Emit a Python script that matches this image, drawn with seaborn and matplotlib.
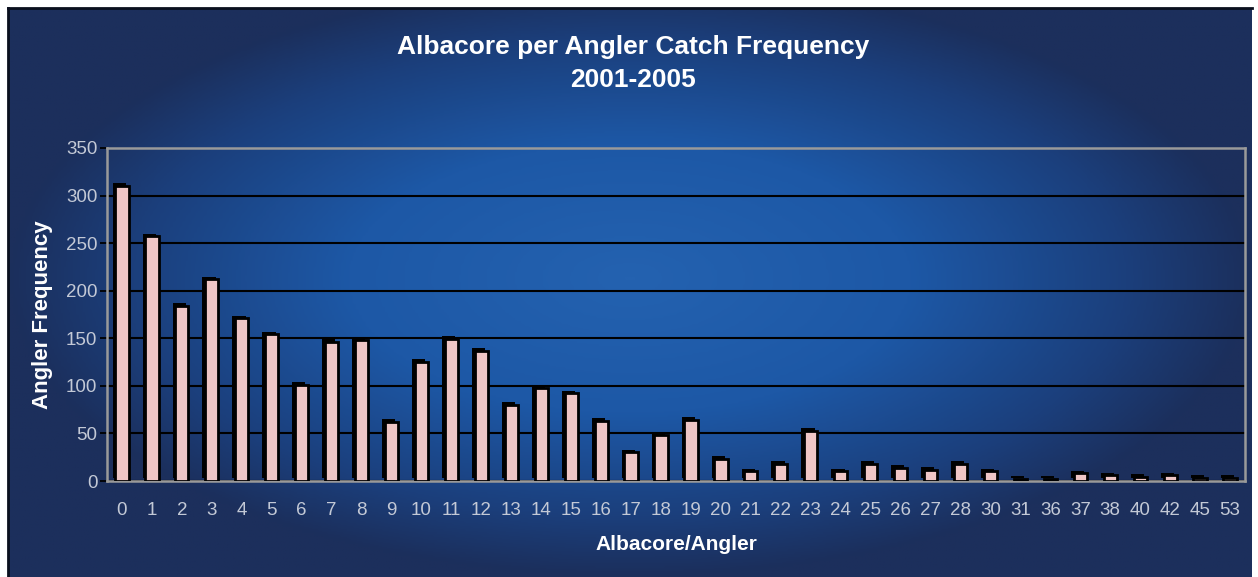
import matplotlib
matplotlib.use("Agg")
import matplotlib.pyplot as plt
import matplotlib.patheffects as pe
import numpy as np
import pandas as pd
import seaborn as sns
from matplotlib.colors import LinearSegmentedColormap

# catch per angler (category) and how many anglers caught that many
catch = ["0", "1", "2", "3", "4", "5", "6", "7", "8", "9", "10", "11", "12",
         "13", "14", "15", "16", "17", "18", "19", "20", "21", "22", "23",
         "24", "25", "26", "27", "28", "30", "31", "36", "37", "38", "40",
         "42", "45", "53"]
freq = [310, 257, 184, 212, 171, 154, 101, 146, 148, 62, 125, 149, 137,
        80, 98, 92, 63, 30, 48, 64, 23, 10, 18, 53,
        10, 18, 14, 12, 18, 10, 2, 2, 8, 6, 4,
        6, 3, 3]
y_ticks = [0, 50, 100, 150, 200, 250, 300, 350]

BAR_PINK = "#efc6c6"
TICK_GREY = "#c3c9d6"
FRAME_GREY = "#9a9a9a"

sns.set_theme(style="white")
plt.rcParams["font.family"] = ["Liberation Sans", "DejaVu Sans"]

W, H = 1258, 577
fig = plt.figure(figsize=(W / 100, H / 100), dpi=100, facecolor="white")

# background panel with a wide radial blue glow
bg = fig.add_axes([8 / W, 0, (1252 - 8) / W, (H - 8) / H])
gx, gy = np.meshgrid(np.linspace(-1, 1, 400), np.linspace(-1, 1, 200))
r = np.sqrt((gx / 1.0) ** 2 + ((gy + 0.05) / 1.05) ** 2)
glow = LinearSegmentedColormap.from_list(
    "glow", [(0, "#2462b0"), (0.45, "#1d58a6"), (0.8, "#1b3f7c"), (1, "#1c2f5c")])
bg.imshow(np.clip(r, 0, 1), cmap=glow, aspect="auto", extent=[0, 1, 0, 1])
bg.set_xlim(0, 1)
bg.set_ylim(0, 1)
bg.set_xticks([])
bg.set_yticks([])
for side in ("right", "bottom"):
    bg.spines[side].set_visible(False)
for side in ("top", "left"):
    bg.spines[side].set_color("#0a0f1e")
    bg.spines[side].set_linewidth(2)

ax = fig.add_axes([107 / W, (H - 481) / H, (1245 - 107) / W, (481 - 148) / H])
ax.set_facecolor("none")

df = pd.DataFrame({"catch": catch, "freq": freq})
sns.barplot(data=df, x="catch", y="freq", order=catch, color=BAR_PINK,
            width=0.44, edgecolor="black", linewidth=2.0, saturation=1, ax=ax)
for p in ax.patches:
    p.set_path_effects([pe.SimplePatchShadow(offset=(-2, 2), shadow_rgbFace="black", alpha=1),
                        pe.Normal()])
    p.set_zorder(3)

ax.set_ylim(0, 350)
ax.set_xlim(-0.5, len(catch) - 0.5)
ax.set_yticks(y_ticks)
ax.grid(axis="y", color="black", linewidth=1.5, zorder=1)
ax.set_axisbelow(True)

for s in ax.spines.values():
    s.set_color(FRAME_GREY)
    s.set_linewidth(1.8)
    s.set_visible(True)

ax.set_xticks(np.arange(len(catch) + 1) - 0.5, minor=True)
ax.tick_params(axis="x", which="major", length=0, pad=15, labelsize=13.5, labelcolor=TICK_GREY)
ax.tick_params(axis="x", which="minor", length=6, width=1.3, color="black", direction="out")
ax.tick_params(axis="y", which="major", length=5, width=1.3, color="black", pad=2,
               labelsize=13.5, labelcolor=TICK_GREY, left=True)

ax.set_xlabel("Albacore/Angler", color="white", fontsize=15, fontweight="bold", labelpad=12)
ax.set_ylabel("Angler Frequency", color="white", fontsize=16, fontweight="bold", labelpad=9)

fig.text(0.503, 1 - 47 / H, "Albacore per Angler Catch Frequency", color="white",
         fontsize=19, fontweight="bold", ha="center", va="center")
fig.text(0.503, 1 - 80 / H, "2001-2005", color="white",
         fontsize=19, fontweight="bold", ha="center", va="center")

fig.savefig("out.png", dpi=100, facecolor=fig.get_facecolor())
